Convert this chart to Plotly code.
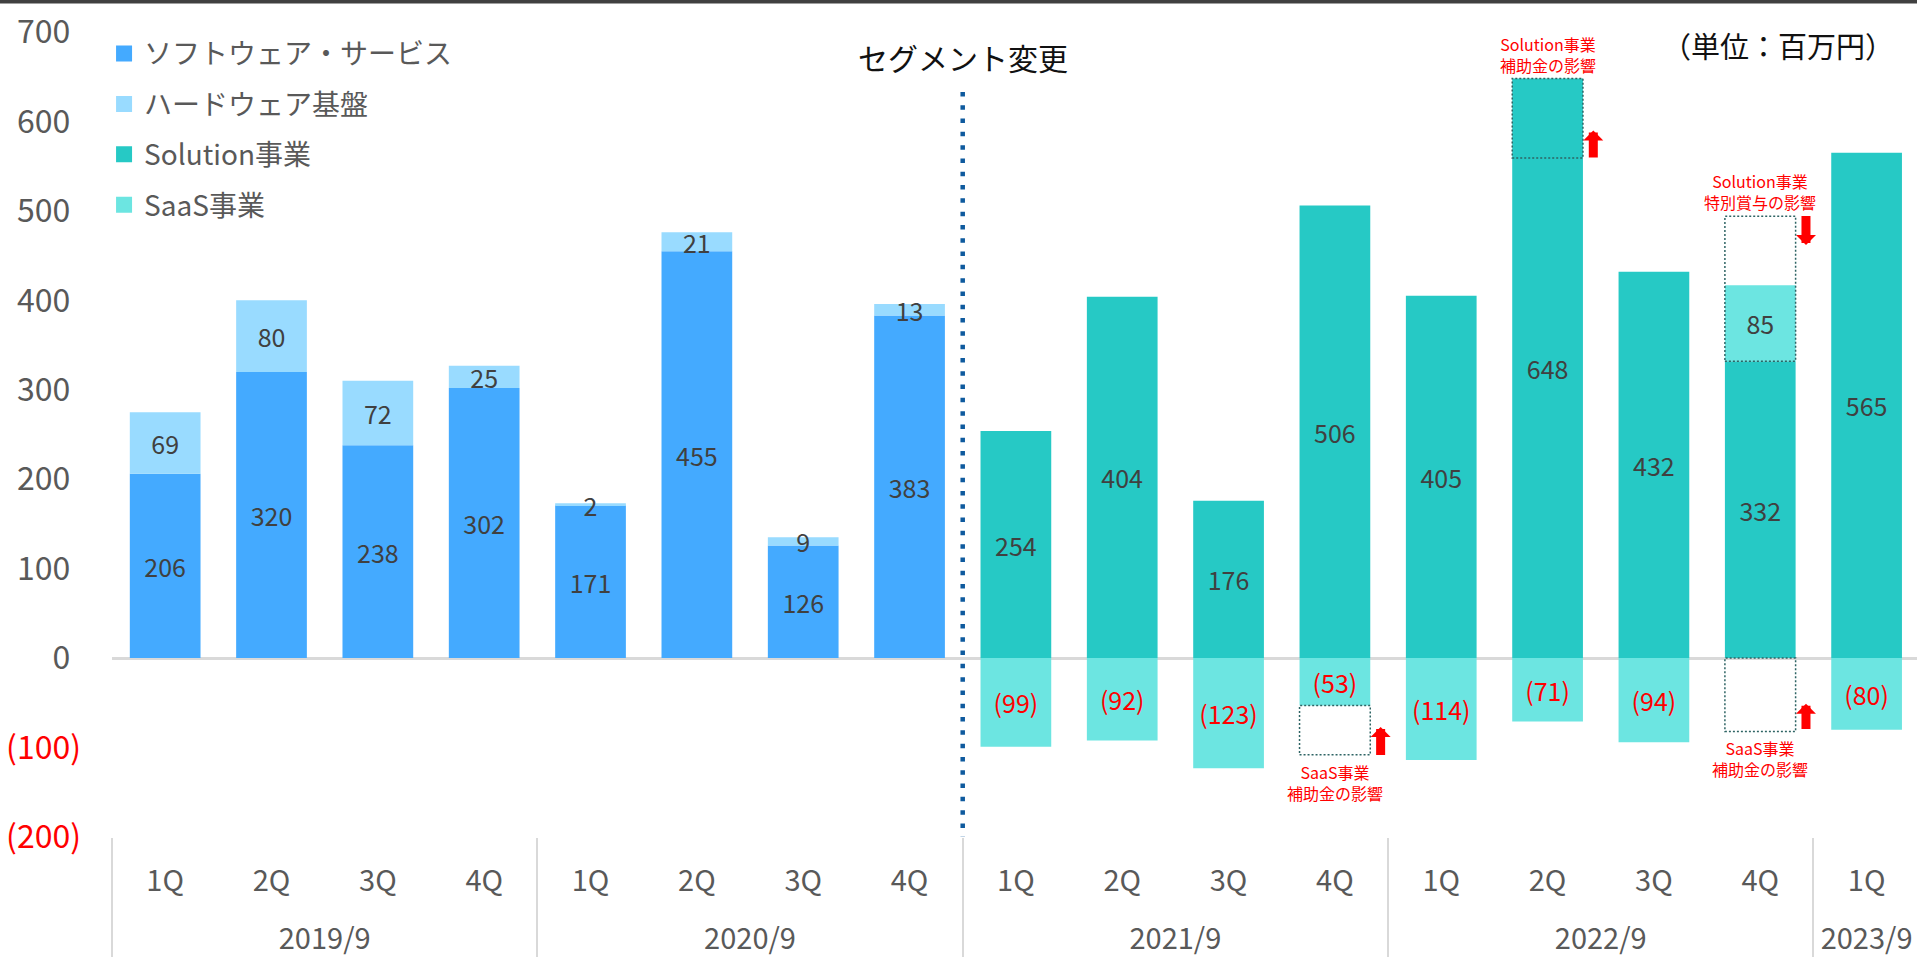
import plotly.graph_objects as go

# ---------------- data ----------------
years = ["2019/9"] * 4 + ["2020/9"] * 4 + ["2021/9"] * 4 + ["2022/9"] * 4 + ["2023/9"]
quarters = ["1Q", "2Q", "3Q", "4Q"] * 4 + ["1Q"]

software = [206, 320, 238, 302, 171, 455, 126, 383] + [None] * 9
hardware = [69, 80, 72, 25, 2, 21, 9, 13] + [None] * 9
solution = [None] * 8 + [254, 404, 176, 506, 405, 648, 432, 332, 565]
saas = [None] * 8 + [-99, -92, -123, -53, -114, -71, -94, 85, -80]

y_ticks = [-200, -100, 0, 100, 200, 300, 400, 500, 600, 700]

segment_change_at = 7.5
segment_line_top = 633

# effect boxes: (category index, lower value, upper value)
effect_boxes = [(11, -108, -53), (13, 559, 648), (15, 332, 494), (15, -82, 0)]
# effect notes: (category index, anchor value, text, side)
effect_notes = [
    (11, -108, "SaaS事業<br>補助金の影響", "below"),
    (13, 648, "Solution事業<br>補助金の影響", "above"),
    (15, 494, "Solution事業<br>特別賞与の影響", "above"),
    (15, -82, "SaaS事業<br>補助金の影響", "below"),
]
# effect arrows: (category index, tail value, tip value)
effect_arrows = [(11, -110, -77), (13, 558, 590), (15, 496, 462), (15, -81, -51)]

# ---------------- style ----------------
FONT = "Noto Sans CJK JP"
C_SOFT = "#44AAFF"
C_HARD = "#99DBFF"
C_SOL = "#26C9C5"
C_SAAS = "#6CE5E1"
LABEL_GRAY = "#404040"
AXIS_GRAY = "#595959"
RED = "#FF0000"
BAR_W = 0.665
X_RANGE = [-0.5, 16.474]


def fmt(v):
    if v is None:
        return ""
    return f"({-v})" if v < 0 else str(v)


# years shown on the second label row (pushed one line lower)
x = [["<br>" + y for y in years], quarters]
fig = go.Figure()

series = [
    (software, "ソフトウェア・サービス", C_SOFT, "g1"),
    (hardware, "ハードウェア基盤", C_HARD, "g2"),
    (solution, "Solution事業", C_SOL, "g3"),
    (saas, "SaaS事業", C_SAAS, "g4"),
]

for vals, name, color, group in series:
    fig.add_bar(
        x=x, y=vals, name=name, legendgroup=group, showlegend=False,
        marker=dict(color=color, line=dict(width=0)),
        text=[fmt(v) for v in vals],
        textposition="inside", insidetextanchor="middle", textangle=0,
        textfont=dict(family=FONT, size=25,
                      color=[RED if (v is not None and v < 0) else LABEL_GRAY for v in vals]),
        hoverinfo="skip",
    )

# legend entries (square swatches)
for vals, name, color, group in series:
    fig.add_scatter(
        x=[None], y=[None], xaxis="x2", mode="markers", name=name, legendgroup=group,
        marker=dict(symbol="square", size=16, color=color, line=dict(width=0)),
        hoverinfo="skip",
    )

shapes = []
# dark strip at top of the slide
shapes.append(dict(type="rect", xref="paper", yref="paper", x0=-0.1, x1=1.1,
                   y0=1 + 28.5 / 805, y1=1.2, fillcolor="#404040", line=dict(width=0)))
# segment change line
shapes.append(dict(type="line", xref="x2", yref="y", x0=segment_change_at, x1=segment_change_at,
                   y0=segment_line_top, y1=-202,
                   line=dict(color="#0E5A9E", width=4.5, dash="4.5px,8.8px")))
for idx, lo, hi in effect_boxes:
    shapes.append(dict(type="rect", xref="x2", yref="y", layer="above",
                       x0=idx - BAR_W / 2, x1=idx + BAR_W / 2, y0=lo, y1=hi,
                       line=dict(color="#2E6464", width=1.5, dash="2px,2px")))

annotations = []
for idx, v, txt, side in effect_notes:
    annotations.append(dict(
        xref="x2", yref="y", x=idx, y=v, text=txt, showarrow=False,
        xanchor="center",
        yanchor="bottom" if side == "above" else "top",
        yshift=0 if side == "above" else -3,
        font=dict(family=FONT, size=16, color=RED), align="center"))
for idx, tail, tip in effect_arrows:
    annotations.append(dict(
        xref="x2", yref="y", axref="x2", ayref="y",
        x=idx + 0.43, y=tip, ax=idx + 0.43, ay=tail, text="",
        showarrow=True, arrowhead=1, arrowwidth=9, arrowsize=0.37, arrowcolor=RED))
annotations.append(dict(xref="x2", yref="y", x=segment_change_at, y=672, text="セグメント変更",
                        xanchor="center", yanchor="middle",
                        showarrow=False, font=dict(family=FONT, size=30, color="#111111")))
annotations.append(dict(xref="paper", yref="paper", x=0.923, y=0.984, text="（単位：百万円）",
                        xanchor="center", yanchor="middle",
                        showarrow=False, font=dict(family=FONT, size=29, color="#111111")))

HIDDEN_PAREN = '<span style="color:rgba(0,0,0,0)">)</span>'
ticktext = [f'<span style="color:{RED}">({-t})</span>' if t < 0 else f"{t}{HIDDEN_PAREN}"
            for t in y_ticks]

fig.update_layout(
    width=1917, height=959,
    margin=dict(l=111.5, r=0, t=32, b=122),
    paper_bgcolor="white", plot_bgcolor="white",
    barmode="relative", bargap=1 - BAR_W,
    uniformtext=dict(minsize=25, mode="show"),
    font=dict(family=FONT, color=AXIS_GRAY),
    showlegend=True,
    legend=dict(x=-0.0044, y=1.004, xanchor="left", yanchor="top",
                font=dict(family=FONT, size=28, color=AXIS_GRAY),
                bgcolor="rgba(0,0,0,0)", tracegroupgap=11, traceorder="grouped"),
    xaxis=dict(type="multicategory", range=X_RANGE, showgrid=False, zeroline=False,
               showline=False, ticks="", showdividers=True, dividercolor="#D9D9D9",
               dividerwidth=1.5, ticklabelstandoff=24,
               tickfont=dict(family=FONT, size=29, color=AXIS_GRAY)),
    xaxis2=dict(overlaying="x", anchor="y", range=X_RANGE, visible=False),
    yaxis=dict(range=[-200, 700], tickvals=y_ticks, ticktext=ticktext, showgrid=False,
               zeroline=True, zerolinecolor="#D9D9D9", zerolinewidth=2.5, showline=False,
               ticks="", ticklabelstandoff=30,
               tickfont=dict(family=FONT, size=32, color=AXIS_GRAY)),
    shapes=shapes, annotations=annotations,
)

fig.write_html("out.html", config={"displayModeBar": False},
               post_script="document.body.style.margin='0';document.body.style.overflow='hidden';")
